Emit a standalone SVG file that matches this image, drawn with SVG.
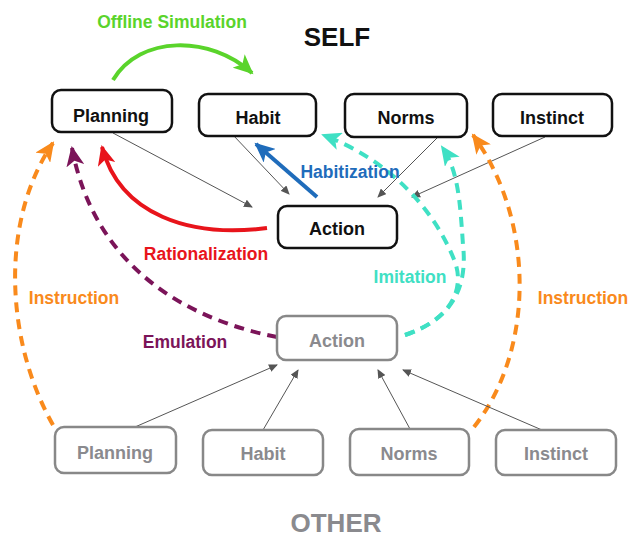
<svg xmlns="http://www.w3.org/2000/svg" width="632" height="537" viewBox="0 0 632 537">
<defs>
<style>
text{font-family:"Liberation Sans",Arial,sans-serif;font-weight:bold;text-anchor:middle}
.self rect{fill:#fff;stroke:#111;stroke-width:2.5}
.self text{fill:#111;font-size:18px}
.other rect{fill:#fff;stroke:#888;stroke-width:2.5}
.other text{fill:#8a8a8e;font-size:18px}
.thin{fill:none;stroke:#555;stroke-width:1}
.thick{fill:none;stroke-width:4}
.dash{stroke-dasharray:10 7}
.lbl{font-size:17.5px}
</style>
<marker id="mg" markerUnits="userSpaceOnUse" markerWidth="21" markerHeight="18" refX="18" refY="9" orient="auto"><path d="M0,0 L20,9 L0,18 L5,9 z" fill="#5ad42b"/></marker>
<marker id="mr" markerUnits="userSpaceOnUse" markerWidth="21" markerHeight="18" refX="18" refY="9" orient="auto"><path d="M0,0 L20,9 L0,18 L5,9 z" fill="#e8141b"/></marker>
<marker id="mb" markerUnits="userSpaceOnUse" markerWidth="21" markerHeight="18" refX="18" refY="9" orient="auto"><path d="M0,0 L20,9 L0,18 L5,9 z" fill="#1f6cbb"/></marker>
<marker id="mp" markerUnits="userSpaceOnUse" markerWidth="21" markerHeight="18" refX="18" refY="9" orient="auto"><path d="M0,0 L20,9 L0,18 L5,9 z" fill="#7b1459"/></marker>
<marker id="mo" markerUnits="userSpaceOnUse" markerWidth="21" markerHeight="18" refX="18" refY="9" orient="auto"><path d="M0,0 L20,9 L0,18 L5,9 z" fill="#f98a1c"/></marker>
<marker id="mt" markerUnits="userSpaceOnUse" markerWidth="21" markerHeight="18" refX="18" refY="9" orient="auto"><path d="M0,0 L20,9 L0,18 L5,9 z" fill="#3fe0c4"/></marker>
<marker id="mk" markerUnits="userSpaceOnUse" markerWidth="9" markerHeight="8" refX="8" refY="4" orient="auto"><path d="M0,0 L9,4 L0,8 z" fill="#555"/></marker>
</defs>
<rect width="632" height="537" fill="#fff"/>

<g id="connectors">
<path class="thick" stroke="#5ad42b" d="M113 80 C140 35 210 35 252 73" marker-end="url(#mg)"/>
<path class="thin" d="M113 133 L252 207" marker-end="url(#mk)"/>
<path class="thin" d="M233 135 L289 194" marker-end="url(#mk)"/>
<path class="thin" d="M437 138 L378 197" marker-end="url(#mk)"/>
<path class="thin" d="M545 137 L412 197" marker-end="url(#mk)"/>
<path class="thick" stroke="#1f6cbb" d="M317 197 L256 144" marker-end="url(#mb)"/>
<path class="thick" stroke="#e8141b" d="M267 228 C190 238 120 215 102 147" marker-end="url(#mr)"/>
<path class="thick dash" stroke="#7b1459" d="M277 337 C190 320 95 270 72 148" marker-end="url(#mp)"/>
<path class="thick dash" stroke="#f98a1c" d="M53 425 C5 340 0 220 53 143" marker-end="url(#mo)"/>
<path class="thick dash" stroke="#f98a1c" d="M474 427 C535 350 535 220 473 135" marker-end="url(#mo)"/>
<path class="thick dash" stroke="#3fe0c4" d="M405 335 C450 320 468 290 463 245 C460 200 458 170 442 147" marker-end="url(#mt)"/>
<path class="thick dash" stroke="#3fe0c4" d="M405 335 C450 320 465 290 455 262 C435 210 390 160 323 135" marker-end="url(#mt)"/>
<path class="thin" d="M135 427 L277 365" marker-end="url(#mk)"/>
<path class="thin" d="M263 430 L298 370" marker-end="url(#mk)"/>
<path class="thin" d="M410 429 L378 370" marker-end="url(#mk)"/>
<path class="thin" d="M542 430 L403 370" marker-end="url(#mk)"/>
</g>

<g id="labels">
<text x="337" y="46" style="font-size:26px;fill:#111">SELF</text>
<text x="336" y="532" style="font-size:26px;fill:#8a8a8e">OTHER</text>
<text class="lbl" x="172" y="28" fill="#5ad42b">Offline Simulation</text>
<text class="lbl" x="350" y="178" fill="#1f6cbb">Habitization</text>
<text class="lbl" x="206" y="260" fill="#e8141b">Rationalization</text>
<text class="lbl" x="185" y="348" fill="#7b1459">Emulation</text>
<text class="lbl" x="410" y="283" fill="#3fe0c4">Imitation</text>
<text class="lbl" x="74" y="304" fill="#f98a1c">Instruction</text>
<text class="lbl" x="583" y="304" fill="#f98a1c">Instruction</text>
</g>

<g id="self-planning" class="self"><rect x="52" y="90" width="120" height="42" rx="9"/><text x="111" y="121.5">Planning</text></g>
<g id="self-habit" class="self"><rect x="199" y="94" width="117" height="42" rx="9"/><text x="258" y="123.5">Habit</text></g>
<g id="self-norms" class="self"><rect x="345" y="94" width="122" height="43" rx="9"/><text x="406" y="123.5">Norms</text></g>
<g id="self-instinct" class="self"><rect x="493" y="94" width="119" height="42" rx="9"/><text x="552" y="123.5">Instinct</text></g>
<g id="self-action" class="self"><rect x="278" y="206" width="119" height="42" rx="9"/><text x="337" y="234.5">Action</text></g>

<g id="other-action" class="other"><rect x="277" y="316" width="120" height="44" rx="9"/><text x="337" y="346.5">Action</text></g>
<g id="other-planning" class="other"><rect x="55" y="427" width="121" height="46" rx="9"/><text x="115" y="458.5">Planning</text></g>
<g id="other-habit" class="other"><rect x="203" y="430" width="120" height="45" rx="9"/><text x="263" y="459.5">Habit</text></g>
<g id="other-norms" class="other"><rect x="350" y="429" width="119" height="46" rx="9"/><text x="409" y="459.5">Norms</text></g>
<g id="other-instinct" class="other"><rect x="496" y="430" width="120" height="45" rx="9"/><text x="556" y="459.5">Instinct</text></g>
</svg>
